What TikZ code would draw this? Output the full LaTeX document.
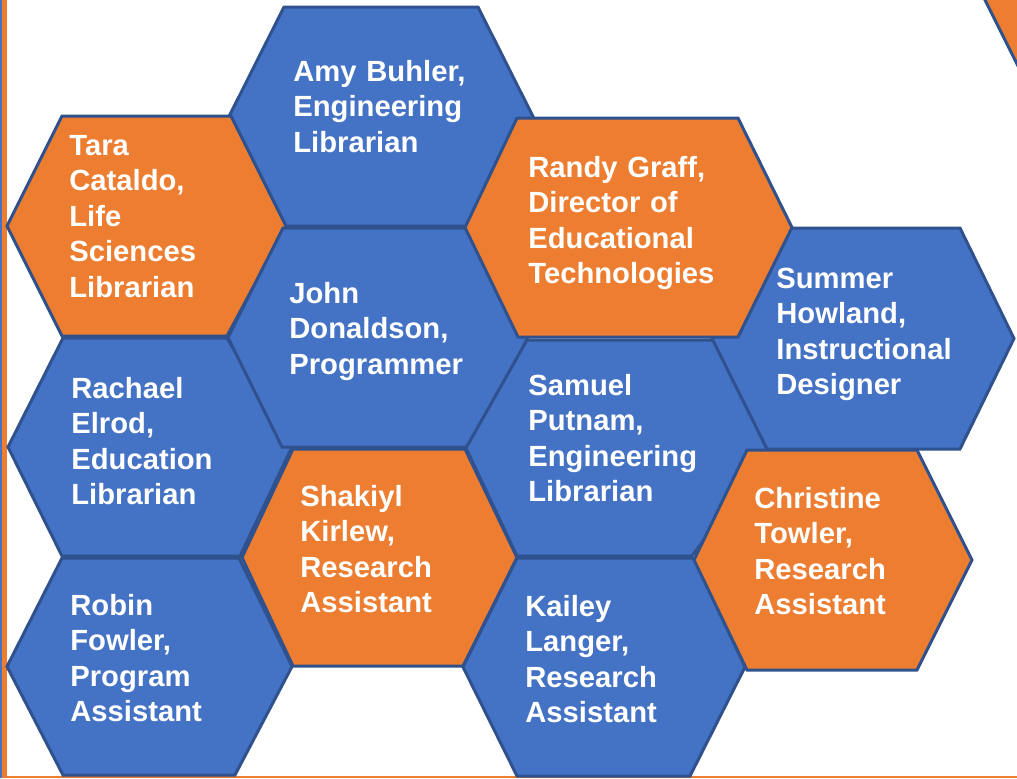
\documentclass[tikz,border=0pt]{standalone}
\usepackage{fontspec}
\setmainfont{Liberation Sans}
\usepackage{xcolor}
\usepackage{tikz}
\definecolor{hexblue}{HTML}{4472C4}
\definecolor{hexorange}{HTML}{ED7D31}
\definecolor{hexline}{HTML}{2F528F}
\tikzset{
  hexcell/.style={draw=hexline,line width=1.5pt,line join=miter},
  persontext/.style={anchor=base west,align=left,text width=100pt,inner sep=0pt,text=white,
    font=\fontsize{14.6}{17.75}\selectfont\bfseries}
}
\begin{document}
\begin{tikzpicture}[x=0.5pt,y=-0.5pt]
				\useasboundingbox (0,0) rectangle (1017,778);
				\clip (0,0) rectangle (1017,778);
				% page edges
				\fill[hexblue] (0,0) rectangle (2,778);
				\fill[hexorange] (2,0) rectangle (7,778);
				\draw[hexorange,line width=1pt] (7,777) -- (1017,777);
				% cells: colour / left tip / top left / top right / right tip / bottom right / bottom left / top / bottom
				\foreach \hcol/\xa/\xb/\xc/\xd/\xe/\xf/\ya/\yb in {
					hexblue/229/284/478/533/478/284/7/226,
					hexorange/7/62/231/286/227/62/116/336,
					hexblue/8/63/227/292/240/62/338/556,
					hexblue/228/283/472/528/472/282/228/447,
					hexblue/7/62/239/292/235/63/558/775,
					hexblue/466/527/720/772/692/517/340/556,
					hexblue/712/767/960/1014/960/767/228/449,
					hexorange/465/517/738/792/738/518/118/337,
					hexblue/463/517/694/745/690/517/558/776,
					hexorange/242/293/465/517/463/293/449/666,
					hexorange/694/747/917/972/917/747/450/670,
					hexorange/983/1038/1200/1255/1200/1038/-114/106}
				\filldraw[hexcell,fill=\hcol] (\xa,{(\ya+\yb)/2}) -- (\xb,\ya) -- (\xc,\ya) -- (\xd,{(\ya+\yb)/2}) -- (\xe,\yb) -- (\xf,\yb) -- cycle;
				% names
				\node[persontext] (amy) at (293,81) {Amy Buhler,\\Engineering\\Librarian};
				\node[persontext] (tara) at (69,155) {Tara\\Cataldo,\\Life\\Sciences\\Librarian};
				\node[persontext] (john) at (289,303) {John\\Donaldson,\\Programmer};
				\node[persontext] (randy) at (528,177) {Randy Graff,\\Director of\\Educational\\Technologies};
				\node[persontext] (summer) at (776,288) {Summer\\Howland,\\Instructional\\Designer};
				\node[persontext] (rachael) at (71,398) {Rachael\\Elrod,\\Education\\Librarian};
				\node[persontext] (samuel) at (528,395) {Samuel\\Putnam,\\Engineering\\Librarian};
				\node[persontext] (shakiyl) at (300,506) {Shakiyl\\Kirlew,\\Research\\Assistant};
				\node[persontext] (christine) at (754,508) {Christine\\Towler,\\Research\\Assistant};
				\node[persontext] (robin) at (70,615) {Robin\\Fowler,\\Program\\Assistant};
				\node[persontext] (kailey) at (525,616) {Kailey\\Langer,\\Research\\Assistant};
\end{tikzpicture}
\end{document}
